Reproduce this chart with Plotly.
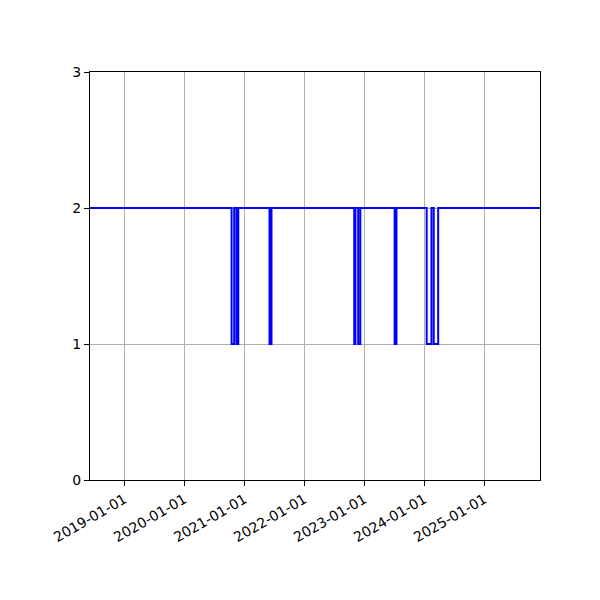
import plotly.graph_objects as go

# change points of the step series (value holds until next date)
dates = [
    "2018-06-06",
    "2020-10-15", "2020-10-31",
    "2020-11-14", "2020-11-25",
    "2021-06-03", "2021-06-15",
    "2022-11-01", "2022-11-08",
    "2022-11-25", "2022-12-08",
    "2023-07-05", "2023-07-16",
    "2024-01-16", "2024-02-14",
    "2024-02-28", "2024-03-26",
    "2025-12-06",
]
values = [
    2,
    1, 2,
    1, 2,
    1, 2,
    1, 2,
    1, 2,
    1, 2,
    1, 2,
    1, 2,
    2,
]
year_ticks = ["2019-01-01", "2020-01-01", "2021-01-01", "2022-01-01",
              "2023-01-01", "2024-01-01", "2025-01-01"]
y_ticks = [0, 1, 2, 3]

fig = go.Figure()
fig.add_trace(go.Scatter(
    x=dates, y=values, mode="lines",
    line=dict(color="#0000ff", width=2, shape="hv"),
    showlegend=False,
))

axis_style = dict(
    showline=True, linecolor="black", linewidth=1, mirror=True,
    ticks="outside", ticklen=5, tickcolor="black",
    showgrid=True, gridcolor="#b0b0b0", gridwidth=1,
    zeroline=False,
    tickfont=dict(family="DejaVu Sans", size=14, color="black"),
)
fig.update_xaxes(
    range=[dates[0], dates[-1]],
    tickvals=year_ticks, ticktext=year_ticks,
    tickangle=-30,
    **axis_style,
)
fig.update_yaxes(range=[0, 3], tickvals=y_ticks, **axis_style)

# page body adds 8px, so margins are offset to put the axes at 90..540 / 72..480
fig.update_layout(
    width=600, height=600,
    margin=dict(l=82, r=68, t=64, b=128),
    plot_bgcolor="white", paper_bgcolor="white",
)

fig.write_html("out.html")
